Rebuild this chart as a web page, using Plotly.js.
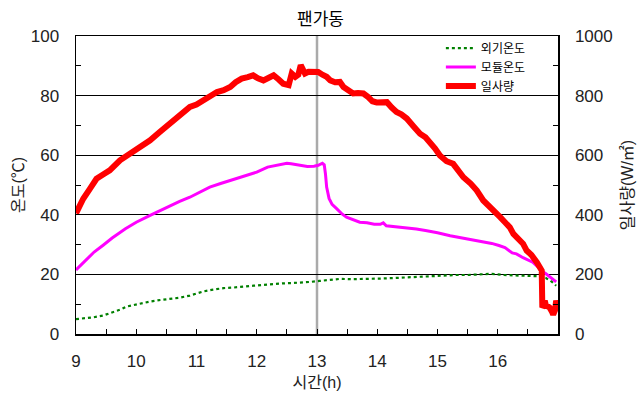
<!DOCTYPE html>
<html><head><meta charset="utf-8">
<script src="https://cdn.plot.ly/plotly-3.0.1.min.js"></script>
<style>html,body{margin:0;padding:0;background:#fff;}</style>
</head><body>
<div id="chart" style="width:641px;height:396px;"></div>
<script>
// 일사량 (W/㎡)
const radTime = [9.0,9.05,9.12,9.23,9.34,9.45,9.56,9.73,9.89,10.06,10.23,10.39,10.56,10.73,10.89,11.0,11.12,11.34,11.45,11.56,11.65,11.75,11.85,11.94,12.02,12.11,12.2,12.28,12.36,12.44,12.53,12.58,12.64,12.69,12.73,12.77,12.8,12.86,12.91,12.96,13.02,13.09,13.16,13.22,13.3,13.38,13.44,13.52,13.6,13.68,13.77,13.85,13.92,13.99,14.08,14.16,14.24,14.32,14.4,14.49,14.6,14.71,14.8,14.88,14.96,15.04,15.15,15.26,15.35,15.43,15.55,15.65,15.76,15.82,15.9,15.98,16.04,16.12,16.2,16.26,16.34,16.42,16.48,16.56,16.65,16.7,16.73,16.735,16.74,16.76,16.78,16.8,16.84,16.86,16.9,16.92,16.95,16.97,16.99];
const radVal = [405,430,454,487,521,535,549,583,605,625,650,678,706,739,762,770,784,812,818,829,845,857,862,868,858,851,860,868,855,840,835,874,863,870,902,880,874,880,879,883,879,870,863,851,845,846,829,818,807,809,807,795,781,777,778,778,760,745,737,723,697,672,660,644,622,599,580,571,547,526,505,482,448,437,423,409,392,375,358,336,320,303,280,265,240,225,213,150,89,95,112,95,92,89,75,65,80,112,90];

// 모듈온도 (℃)
const modTime = [9.0,9.1,9.2,9.3,9.45,9.6,9.82,10.0,10.23,10.4,10.56,10.72,10.89,11.05,11.22,11.4,11.56,11.72,11.86,12.0,12.18,12.35,12.5,12.57,12.7,12.84,12.95,13.02,13.09,13.12,13.14,13.16,13.2,13.25,13.33,13.42,13.49,13.55,13.71,13.83,13.95,14.05,14.1,14.15,14.3,14.54,14.65,14.8,15.0,15.21,15.4,15.6,15.76,15.9,16.02,16.12,16.24,16.31,16.42,16.52,16.58,16.68,16.74,16.8,16.9,16.97];
const modVal = [21.5,23.5,25.5,27.5,29.8,32.2,35.3,37.5,39.8,41.5,43.1,44.5,45.9,47.5,49.3,50.5,51.5,52.3,53.2,54.3,56.0,56.8,57.3,57.1,56.6,56.2,56.3,56.6,57.3,56.8,53.8,49.3,45.5,43.5,42.0,40.2,39.2,38.7,37.5,37.3,36.8,36.8,37.3,36.3,36.0,35.6,35.2,34.7,34.0,33.0,32.3,31.5,30.8,30.4,29.7,29.0,27.2,26.9,25.6,24.6,24.1,22.3,21.0,20.2,18.5,17.5];

// 외기온도 (℃)
const ambTime = [9.0,9.15,9.29,9.45,9.62,9.75,9.84,10.0,10.06,10.23,10.4,10.56,10.73,10.89,11.0,11.12,11.25,11.45,11.62,11.78,11.95,12.11,12.28,12.44,12.6,12.77,12.9,13.04,13.2,13.38,13.6,13.8,14.05,14.3,14.5,14.7,14.9,15.1,15.3,15.5,15.7,15.9,16.1,16.3,16.5,16.65,16.8,16.9,16.97];
const ambVal = [5.0,5.3,5.6,6.2,7.3,8.3,9.2,10.0,10.1,10.9,11.4,11.8,12.2,12.9,13.6,14.3,14.8,15.4,15.6,15.8,16.2,16.5,16.8,17.0,17.1,17.2,17.5,17.8,18.2,18.5,18.4,18.6,18.6,18.8,19.0,19.3,19.5,19.6,19.8,19.8,20.0,20.2,19.8,19.6,19.5,19.4,18.8,17.5,16.2];

const xTickVals = [9,10,11,12,13,14,15,16];
const xTickText = ['9','10','11','12','13','14','15','16'];
const fanStartHour = 13;

const FONT = 'Liberation Sans, Arial, "Noto Sans CJK KR", sans-serif';

const traces = [
  {x: ambTime, y: ambVal, name: '외기온도', type: 'scatter', mode: 'lines',
   line: {color: '#008000', width: 2.2, dash: 'dot'}, yaxis: 'y'},
  {x: modTime, y: modVal, name: '모듈온도', type: 'scatter', mode: 'lines',
   line: {color: '#ff00ff', width: 3}, yaxis: 'y'},
  {x: radTime, y: radVal, name: '일사량', type: 'scatter', mode: 'lines',
   line: {color: '#ff0000', width: 6}, yaxis: 'y2'}
];

const layout = {
  width: 641, height: 396,
  margin: {l: 76, r: 83, t: 36, b: 62},
  paper_bgcolor: '#fff', plot_bgcolor: '#fff',
  font: {family: FONT, size: 16, color: '#222'},
  title: {text: '팬가동', x: 0.5, xanchor: 'center', y: 0.953, yanchor: 'middle',
          font: {family: FONT, size: 17, color: '#000'}},
  showlegend: true,
  legend: {x: 0.757, xanchor: 'left', y: 1.008, yanchor: 'top', bgcolor: 'rgba(0,0,0,0)',
           font: {family: FONT, size: 12, color: '#000'}, traceorder: 'normal', tracegroupgap: 0},
  xaxis: {
    range: [9, 17], tickvals: xTickVals, ticktext: xTickText,
    showgrid: false, zeroline: false,
    showline: true, linecolor: '#000', linewidth: 1.5, mirror: true,
    ticks: 'inside', ticklen: 5, tickcolor: '#000',
    minor: {dtick: 0.5, ticks: 'inside', ticklen: 5, tickcolor: '#000', showgrid: false},
    ticklabelstandoff: 11,
    tickfont: {family: FONT, size: 17, color: '#222'},
    title: {text: '시간(h)', font: {family: FONT, size: 16, color: '#222'}, standoff: 7}
  },
  yaxis: {
    range: [0, 100], dtick: 20,
    showgrid: true, gridcolor: '#000', gridwidth: 1, zeroline: false,
    showline: true, linecolor: '#000', linewidth: 1.5,
    ticks: 'inside', ticklen: 5, tickcolor: '#000',
    minor: {dtick: 10, ticks: 'inside', ticklen: 5, tickcolor: '#000', showgrid: false},
    ticklabelstandoff: 12,
    tickfont: {family: FONT, size: 17, color: '#222'},
    title: {text: '온도(℃)', font: {family: FONT, size: 16, color: '#222'}, standoff: 2}
  },
  yaxis2: {
    overlaying: 'y', side: 'right', range: [0, 1000], dtick: 200,
    showgrid: false, zeroline: false,
    showline: true, linecolor: '#000', linewidth: 1.5,
    ticks: 'inside', ticklen: 5, tickcolor: '#000',
    minor: {dtick: 100, ticks: 'inside', ticklen: 5, tickcolor: '#000', showgrid: false},
    ticklabelstandoff: 12,
    tickfont: {family: FONT, size: 17, color: '#222'},
    title: {text: '일사량(W/㎡)', font: {family: FONT, size: 16, color: '#222'}, standoff: 10}
  },
  shapes: [
    {type: 'line', xref: 'x', yref: 'paper', x0: fanStartHour, x1: fanStartHour, y0: 0, y1: 1,
     line: {color: '#aaaaaa', width: 2.5}, layer: 'below'}
  ]
};

Plotly.newPlot('chart', traces, layout, {displayModeBar: false, staticPlot: true});
</script>
</body></html>
